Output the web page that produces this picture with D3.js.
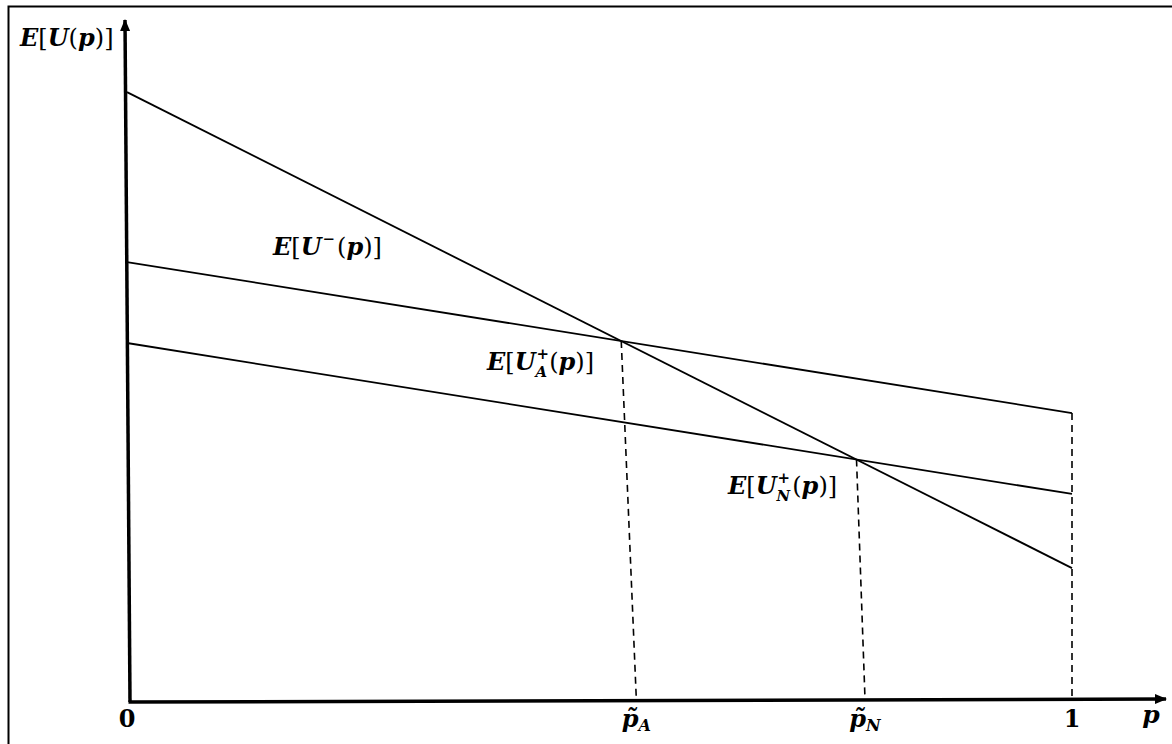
<!DOCTYPE html>
<html>
<head>
<meta charset="utf-8">
<script src="https://cdn.jsdelivr.net/npm/d3@7"></script>
<style>
  html, body { margin: 0; padding: 0; background: #fff; }
  svg { display: block; }
</style>
</head>
<body>
<div id="chart"></div>
<script>
// values (U in arbitrary units, p in [0,1])
const curveNames = ["minus", "plusA", "plusN"];
const uAtZero = [89.4, 64.4, 52.5];
const uAtOne = [19.4, 42.2, 30.3];

// where the dashed drops meet the p axis, with their labels
const tickP = [0, 0.539, 0.781, 1];
const tickLabels = ["0", "p\u0303A", "p\u0303N", "1"];

const W = 1172, H = 744;
const FONT = "DejaVu Serif";
const FS = 24;

const svg = d3.select("#chart").append("svg")
    .attr("width", W).attr("height", H);

svg.append("rect").attr("width", W).attr("height", H).attr("fill", "#fff");

// outer frame (only left / top visible in the picture)
svg.append("rect")
    .attr("x", 8.5).attr("y", 6.5)
    .attr("width", W + 20).attr("height", H + 20)
    .attr("fill", "none").attr("stroke", "#000").attr("stroke-width", 2);

const x = d3.scaleLinear().domain([0, 1]).range([127, 1072]);
const y = d3.scaleLinear().domain([0, 100]).range([700, 20]);

// arrow head
svg.append("defs").append("marker")
    .attr("id", "arrow")
    .attr("viewBox", "0 0 12 10")
    .attr("refX", 11).attr("refY", 5)
    .attr("markerWidth", 12).attr("markerHeight", 10)
    .attr("markerUnits", "userSpaceOnUse")
    .attr("orient", "auto")
    .append("path").attr("d", "M0,0 L12,5 L0,10 Z").attr("fill", "#000");

// --- axes (drawn by hand, slightly leaning like the original sketch) ---
svg.append("line")
    .attr("x1", x(0) + 3).attr("y1", y(0) + 2)
    .attr("x2", x(0) - 2).attr("y2", y(100))
    .attr("stroke", "#000").attr("stroke-width", 3.5)
    .attr("marker-end", "url(#arrow)");

svg.append("line")
    .attr("x1", x(0) + 1.5).attr("y1", y(0) + 2)
    .attr("x2", 1166).attr("y2", y(0) - 1)
    .attr("stroke", "#000").attr("stroke-width", 3.5)
    .attr("marker-end", "url(#arrow)");

// --- the three straight lines ---
const lines = curveNames.map((n, i) => ({ name: n, a: uAtZero[i], b: uAtOne[i] }));
const lineGen = d3.line().x(d => x(d[0])).y(d => y(d[1]));

svg.selectAll("path.curve")
    .data(lines)
    .join("path")
    .attr("class", "curve")
    .attr("d", d => lineGen([[0, d.a], [1, d.b]]))
    .attr("fill", "none").attr("stroke", "#000").attr("stroke-width", 1.8);

// intersections of E[U-] with the two E[U+] lines
function cross(l1, l2) {
    const p = (l2.a - l1.a) / ((l1.b - l1.a) - (l2.b - l2.a));
    return [p, l1.a + p * (l1.b - l1.a)];
}
const ptA = cross(lines[0], lines[1]);
const ptN = cross(lines[0], lines[2]);
const drops = [
    { top: ptA, foot: tickP[1] },
    { top: ptN, foot: tickP[2] },
    { top: [1, d3.max(uAtOne)], foot: tickP[3] }
];

svg.selectAll("line.drop")
    .data(drops)
    .join("line")
    .attr("class", "drop")
    .attr("x1", d => x(d.top[0])).attr("y1", d => y(d.top[1]))
    .attr("x2", d => x(d.foot)).attr("y2", y(0))
    .attr("stroke", "#000").attr("stroke-width", 1.6)
    .attr("stroke-dasharray", "7,5");

// --- math-like labels: one <text> each, sup/sub stacked with dx/dy ---
function textWidth(str, size) {
    const t = svg.append("text").attr("font-family", FONT).attr("font-size", size)
        .attr("font-weight", "bold").text(str);
    const w = t.node().getComputedTextLength();
    t.remove();
    return w;
}

function mathLabel(px, py, sup, sub, size) {
    const t = svg.append("text").attr("x", px).attr("y", py)
        .attr("font-family", FONT).attr("font-size", size);
    const bi = (s) => t.append("tspan").attr("font-weight", "bold").attr("font-style", "italic").text(s);
    const rg = (s) => t.append("tspan").text(s);
    bi("E"); rg("["); bi("U");
    if (sup) {
        const s = size * 0.62;
        const up = size * 0.45, down = size * 0.75;
        t.append("tspan").attr("font-size", s).attr("font-weight", "bold")
            .attr("dx", 1).attr("dy", -up).text(sup);
        if (sub) {
            t.append("tspan").attr("font-size", s).attr("font-weight", "bold")
                .attr("font-style", "italic")
                .attr("dx", -textWidth(sup, s) - 1).attr("dy", down).text(sub);
            rg("(").attr("dx", 2).attr("dy", up - down);
        } else {
            rg("(").attr("dx", 2).attr("dy", up);
        }
    } else {
        rg("(");
    }
    bi("p"); rg(")"); rg("]");
    return t;
}

mathLabel(20, 46, null, null, FS);
mathLabel(273, 255, "\u2212", null, FS);
mathLabel(487, 370, "+", "A", FS);
mathLabel(728, 494, "+", "N", FS);

// --- tick labels on the p axis ---
const tg = svg.append("g").attr("font-family", FONT).attr("font-size", FS)
    .attr("font-weight", "bold");
tickLabels.forEach((lab, i) => {
    const t = tg.append("text").attr("x", x(tickP[i])).attr("y", 727)
        .attr("text-anchor", "middle");
    if (lab.length > 1) {
        t.append("tspan").attr("font-style", "italic").text(lab.slice(0, 2));
        t.append("tspan").attr("font-style", "italic").attr("font-size", 16)
            .attr("dy", 4).text(lab.slice(2));
    } else {
        t.text(lab);
    }
});

// axis name
svg.append("text").attr("x", 1151).attr("y", 723)
    .attr("text-anchor", "middle")
    .attr("font-family", FONT).attr("font-size", 25)
    .attr("font-weight", "bold").attr("font-style", "italic")
    .text("p");
</script>
</body>
</html>
